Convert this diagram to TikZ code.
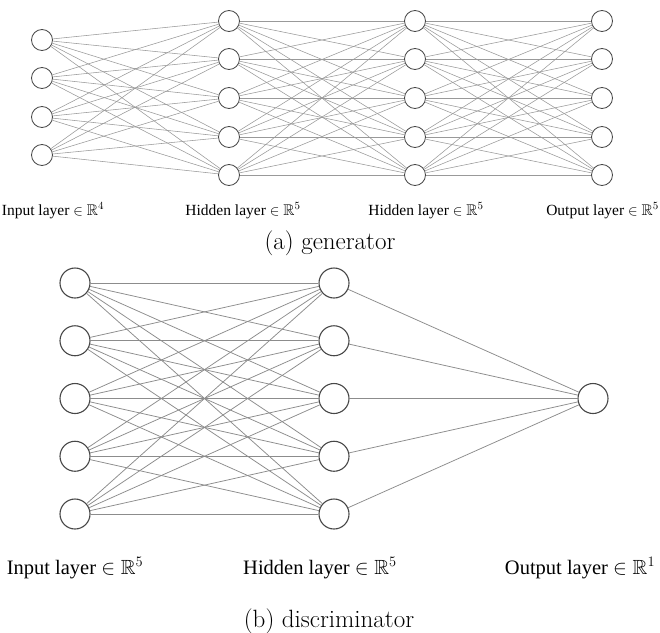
\documentclass[tikz,border=0pt]{standalone}
\usepackage{amssymb}
\usepackage{fontspec}
\newfontfamily\labfont{Liberation Serif}
\begin{document}
\begin{tikzpicture}[x=1pt,y=-1pt,
  ntop/.style={circle,draw=black!72,line width=0.85pt,fill=white,minimum size=21pt,inner sep=0pt},
  nbot/.style={circle,draw=black!72,line width=1.1pt,fill=white,minimum size=30pt,inner sep=0pt},
  ctop/.style={draw=black!40,line width=0.55pt},
  cbot/.style={draw=black!45,line width=0.75pt},
  ltop/.style={anchor=base,inner sep=0pt,font=\labfont\fontsize{15.5}{17}\selectfont},
  lbot/.style={anchor=base,inner sep=0pt,font=\labfont\fontsize{20.5}{23}\selectfont},
  capt/.style={anchor=base,inner sep=0pt,font=\fontsize{25}{28}\selectfont}]
\useasboundingbox[fill=white] (0,0) rectangle (660,632);
% ---------- (a) generator ----------
\foreach \i/\y in {1/40,2/78,3/117,4/155} \node[ntop] (a\i) at (42,\y) {};
\foreach \i/\y in {1/21,2/59,3/98,4/137,5/175} {
  \node[ntop] (h\i) at (229,\y) {};
  \node[ntop] (k\i) at (415,\y) {};
  \node[ntop] (o\i) at (602,\y) {};
}
\foreach \i in {1,...,4} \foreach \j in {1,...,5} \draw[ctop] (a\i) -- (h\j);
\foreach \i in {1,...,5} \foreach \j in {1,...,5} {
  \draw[ctop] (h\i) -- (k\j);
  \draw[ctop] (k\i) -- (o\j);
}
\node[ltop] (la1) at (53,215) {Input layer $\in\mathbb{R}^4$};
\node[ltop] (la2) at (243,215) {Hidden layer $\in\mathbb{R}^5$};
\node[ltop] (la3) at (426,215) {Hidden layer $\in\mathbb{R}^5$};
\node[ltop,anchor=base east] (la4) at (659,215) {Output layer $\in\mathbb{R}^5$};
\node[capt] (ca) at (330,249) {(a) generator};
% ---------- (b) discriminator ----------
\foreach \i/\y in {1/283,2/340.75,3/398.5,4/456.25,5/514} {
  \node[nbot] (bi\i) at (75,\y) {};
  \node[nbot] (bh\i) at (334,\y) {};
}
\node[nbot] (bo) at (593,398.5) {};
\foreach \i in {1,...,5} {
  \foreach \j in {1,...,5} \draw[cbot] (bi\i) -- (bh\j);
  \draw[cbot] (bh\i) -- (bo);
}
\node[lbot] (lb1) at (75,574) {Input layer $\in\mathbb{R}^5$};
\node[lbot] (lb2) at (320,574) {Hidden layer $\in\mathbb{R}^5$};
\node[lbot] (lb3) at (580,574) {Output layer $\in\mathbb{R}^1$};
\node[capt] (cb) at (329,627) {(b) discriminator};
\end{tikzpicture}
\end{document}
